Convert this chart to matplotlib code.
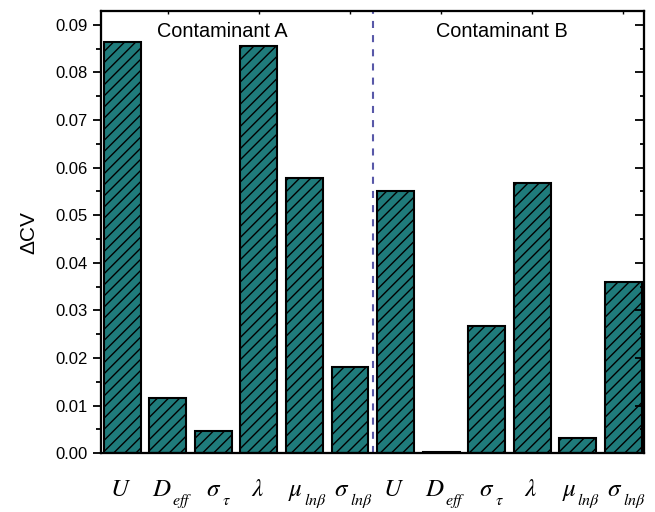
import numpy as np
import matplotlib
matplotlib.use('Agg')
from matplotlib import pyplot as plt
from matplotlib.ticker import MultipleLocator

# Dati
symbols = ['U', 'D', r'\sigma', r'\lambda', r'\mu', r'\sigma']
subs = ['', 'eff', r'\tau', '', r'ln\beta', r'ln\beta']
cont_a = [0.0863, 0.0116, 0.0047, 0.0856, 0.0578, 0.0180]
cont_b = [0.0551, 0.0002, 0.0268, 0.0568, 0.0031, 0.0360]
groups = ['Contaminant A', 'Contaminant B']

plt.rcParams['font.family'] = ['Liberation Sans', 'DejaVu Sans']
plt.rcParams['mathtext.fontset'] = 'stix'
plt.rcParams['hatch.linewidth'] = 1.0

values = cont_a + cont_b
x = np.arange(len(values))

fig = plt.figure(figsize=(6.55, 5.12), dpi=100)
ax = fig.add_axes([0.154, 0.115, 0.829, 0.8635])
ax.bar(x, values, width=0.81, color='#1f7b7b', edgecolor='black',
       linewidth=1.5, hatch='///')

ax.axvline(5.5, color='#5858a8', linestyle=(0, (3.4, 3.4)), linewidth=1.5)

ax.set_xlim(-0.47, 11.45)
ax.set_ylim(0, 0.0929)
ax.yaxis.set_minor_locator(MultipleLocator(0.005))
ax.set_yticks(np.arange(0, 0.095, 0.01))
ax.set_yticklabels([f'{v:.2f}' for v in np.arange(0, 0.095, 0.01)], fontsize=12)
ax.set_xticks(x)
ax.set_xticklabels([])
ax.tick_params(axis='x', length=0)
ax.tick_params(axis='y', which='major', length=6, width=1.3, direction='out')
ax.tick_params(axis='y', which='minor', length=3.5, width=1.3, direction='out')
ax.set_ylabel('ΔCV', fontsize=15, labelpad=12)

# etichette dell'asse x: simbolo + pedice abbassato
shift = [-0.04, 0.08, 0.17, -0.04, -0.03, -0.02]
for i in x:
    k = i % 6
    xs = i + shift[k]
    if subs[k]:
        ax.annotate('$' + symbols[k] + '$', (xs, 0), xycoords=('data', 'axes fraction'),
                    xytext=(0, -31), textcoords='offset points',
                    ha='right', va='baseline', fontsize=18)
        ax.annotate('$' + subs[k] + '$', (xs, 0), xycoords=('data', 'axes fraction'),
                    xytext=(0.3, -37.4), textcoords='offset points',
                    ha='left', va='baseline', fontsize=11.5)
    else:
        ax.annotate('$' + symbols[k] + '$', (xs, 0), xycoords=('data', 'axes fraction'),
                    xytext=(0, -31), textcoords='offset points',
                    ha='center', va='baseline', fontsize=18)

# tacche interne sugli assi opposti
ax2 = ax.twinx()
ax2.set_ylim(ax.get_ylim())
ax2.yaxis.set_major_locator(MultipleLocator(0.01))
ax2.yaxis.set_minor_locator(MultipleLocator(0.005))
ax2.tick_params(axis='y', which='both', direction='in', labelright=False,
                width=1.3)
ax2.tick_params(axis='y', which='major', length=6.3)
ax2.tick_params(axis='y', which='minor', length=3)
ax3 = ax.twiny()
ax3.set_xlim(ax.get_xlim())
ax3.set_xticks(x[1::2])
ax3.tick_params(axis='x', direction='in', labeltop=False, length=2.5, width=1)

for a in (ax, ax2, ax3):
    for s in a.spines.values():
        s.set_linewidth(1.5)

ax.text(2.19, 0.0885, groups[0], ha='center', va='center', fontsize=14.3)
ax.text(8.34, 0.0885, groups[1], ha='center', va='center', fontsize=14.3)

fig.savefig('out.png', dpi=100)
